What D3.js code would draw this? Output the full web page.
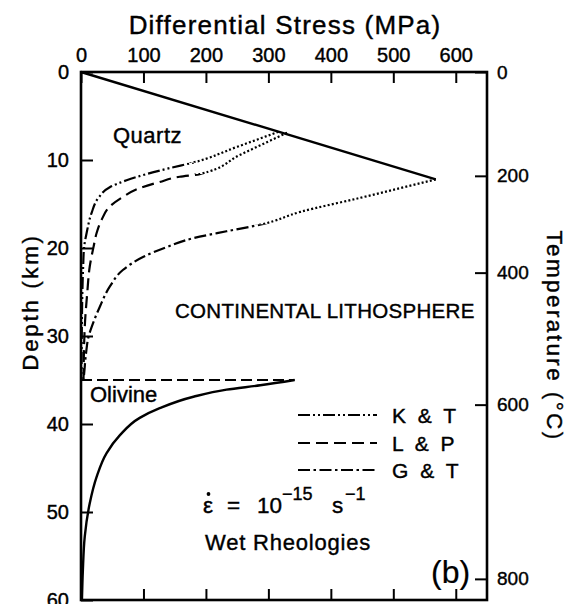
<!DOCTYPE html>
<html><head><meta charset="utf-8">
<script src="https://cdn.jsdelivr.net/npm/d3@7"></script>
<style>body{margin:0;background:#fff}svg{display:block}</style>
</head><body>
<svg id="c" width="571" height="604"></svg>
<script>
// ---------- data ----------
const stressTicks = [0,100,200,300,400,500,600];
const depthTicks = [0,10,20,30,40,50,60];
const tempTicks = [0,200,400,600,800];
const tempTickDepths = [0,11.8,22.8,37.8,57.6];

const brittleDepth = [0,12.2];
const brittleStress = [0,568];

// Kronenberg & Tullis (quartz): dotted part then ductile part
const ktDotDepth = [6.8,8.5,10.3];
const ktDotStress = [316,250,179];
const ktDepth = [10.3,10.9,11.6,12.3,13.1,14.3,16.0,18.3,19.9,22,25,30,35];
const ktStress = [179,143,105,73,46,28,17,9,5,3.5,2.2,1.2,0.8];

// Luan & Paterson (quartz)
const lpDotDepth = [6.9,9.4,11.6];
const lpDotStress = [330,255,190];
const lpDepth = [11.6,11.9,12.5,13.2,14.2,15.3,16.8,18.3,19.9,22.1,25.1,29.0,35];
const lpStress = [190,158,126,94,67,46,33,25,20,14,10,6,4];

// Gleason & Tullis (quartz)
const gtDotDepth = [12.2,14.3,15.9,17.3];
const gtDotStress = [568,447,351,290];
const gtDepth = [17.3,18.1,18.9,19.9,21.0,22.5,24.4,26.7,28.6,30.1,32.0,34.3,35];
const gtStress = [290,233,179,137,100,67,46,30,19,12,8,5,4];

// Olivine
const mohoDepth = [35,35];
const mohoStress = [0,342];
const olDepth = [35.0,35.6,36.1,36.9,38.2,39.3,41.3,43.3,46,49,52.8,56.6,60];
const olStress = [342,287,233,180,126,94,62,41,25,14,6,3,1.5];

const legendLabels = ["K & T","L & P","G & T"];
const legendDash = ["12,3,2,3,2,3","12,6","12,3.5,2.5,3.5"];

// ---------- drawing ----------
const FONT = "'Liberation Sans', Arial, Helvetica, sans-serif";
const svg = d3.select("#c");
const x = d3.scaleLinear().domain([0,650]).range([81,487]);
const y = d3.scaleLinear().domain([0,60]).range([72,600]);
const tScale = d3.scaleLinear().domain(tempTicks).range(tempTickDepths.map(d=>y(d)));

const line = d3.line().x(d=>x(d[1])).y(d=>y(d[0])).curve(d3.curveMonotoneY);
const zip = (a,b)=>a.map((v,i)=>[v,b[i]]);

function path(dep, str, dash, w, clip){
  const p = svg.append("path").attr("d", line(zip(dep,str)))
    .attr("fill","none").attr("stroke","#000").attr("stroke-width", w||2.2)
    .attr("stroke-dasharray", dash||null).attr("stroke-linecap","butt");
  if(clip) p.attr("clip-path",`url(#${clip})`);
  return p;
}
const defs = svg.append("defs");
let clipN = 0;
function clipRect(y0,y1){
  const id = "cl"+(clipN++);
  defs.append("clipPath").attr("id",id).append("rect")
    .attr("x",0).attr("y",y0).attr("width",571).attr("height",y1-y0);
  return id;
}
// one smooth curve, dotted above the junction depth and patterned below it
function splitCurve(dotDep, dotStr, dep, str, dash){
  const D = dotDep.concat(dep.slice(1)), S = dotStr.concat(str.slice(1));
  const yj = y(dep[0]);
  path(D, S, "2,2.2", 2.2, clipRect(0, yj));
  path(D, S, dash, 2.2, clipRect(yj, 604));
}

// axes
function styleAxis(g, fs){
  g.select(".domain").remove();
  g.attr("font-family", FONT).attr("font-size", fs);
  g.selectAll("line").attr("stroke","#000").attr("stroke-width",2);
  g.selectAll("text").attr("fill","#000").attr("stroke","#000").attr("stroke-width",0.4);
}
const gTop = svg.append("g").attr("transform",`translate(0,${y(0)})`)
  .call(d3.axisTop(x).tickValues(stressTicks).tickSizeInner(-11).tickSizeOuter(0).tickPadding(10).tickFormat(d3.format("d")));
styleAxis(gTop, 20);
const gBot = svg.append("g").attr("transform",`translate(0,${y(60)})`)
  .call(d3.axisBottom(x).tickValues(stressTicks.slice(1)).tickSizeInner(-11).tickSizeOuter(0).tickFormat(""));
styleAxis(gBot, 20);
const gLeft = svg.append("g").attr("transform",`translate(${x(0)},0)`)
  .call(d3.axisLeft(y).tickValues(depthTicks).tickSizeInner(-12).tickSizeOuter(0).tickPadding(12).tickFormat(d3.format("d")));
styleAxis(gLeft, 20);
const gRight = svg.append("g").attr("transform",`translate(${x(650)},0)`)
  .call(d3.axisRight(tScale).tickValues(tempTicks).tickSizeInner(-12).tickSizeOuter(0).tickPadding(10).tickFormat(d3.format("d")));
styleAxis(gRight, 19);

// frame
svg.append("rect").attr("x",x(0)).attr("y",y(0)).attr("width",x(650)-x(0)).attr("height",y(60)-y(0))
  .attr("fill","none").attr("stroke","#000").attr("stroke-width",2.6);

// curves
path(brittleDepth, brittleStress, null, 2.4);
splitCurve(ktDotDepth, ktDotStress, ktDepth, ktStress, legendDash[0]);
splitCurve(lpDotDepth, lpDotStress, lpDepth, lpStress, legendDash[1]);
splitCurve(gtDotDepth, gtDotStress, gtDepth, gtStress, legendDash[2]);
path(mohoDepth, mohoStress, "11,5", 2.2);
path(olDepth, olStress, null, 2.4);

// texts
function txt(s, X, Y, fs, opts){
  const t = svg.append("text").attr("x",X).attr("y",Y).attr("font-family",FONT)
    .attr("font-size",fs).attr("fill","#000").attr("stroke","#000").attr("stroke-width",0.4).text(s);
  if(opts){ for(const k in opts) t.attr(k, opts[k]); }
  return t;
}
txt("Differential  Stress  (MPa)", 285, 34, 26, {"text-anchor":"middle","letter-spacing":"1.2px"});
txt("Depth  (km)", 0, 0, 22.5, {"text-anchor":"middle","letter-spacing":"2.6px","transform":"translate(38,302) rotate(-90)"});
txt("Temperature  (°C)", 0, 0, 22.5, {"text-anchor":"middle","letter-spacing":"2.4px","transform":"translate(547,336) rotate(90)"});
txt("Quartz", 113, 143, 22, {"letter-spacing":"0.5px"});
txt("CONTINENTAL  LITHOSPHERE", 175, 318, 20.5, {"letter-spacing":"0.3px"});
txt("Olivine", 90, 402, 22);

// legend
const legY = [415,443,470];
legendLabels.forEach((l,i)=>{
  svg.append("line").attr("x1",298).attr("x2",377).attr("y1",legY[i]).attr("y2",legY[i])
    .attr("stroke","#000").attr("stroke-width",2.2).attr("stroke-dasharray",legendDash[i]);
  txt(l, 392, legY[i]+8, 21, {"word-spacing":"6px"});
});

// strain rate
const eq = svg.append("text").attr("font-family",FONT).attr("font-size",22.5).attr("fill","#000")
  .attr("stroke","#000").attr("stroke-width",0.4);
eq.append("tspan").attr("x",203).attr("y",513).text("ε");
eq.append("tspan").attr("x",227).attr("y",513).text("=");
eq.append("tspan").attr("x",257).attr("y",513).text("10");
eq.append("tspan").attr("x",282).attr("y",500).attr("font-size",18).text("−15");
eq.append("tspan").attr("x",332).attr("y",513).text("s");
eq.append("tspan").attr("x",345).attr("y",500).attr("font-size",18).text("−1");
svg.append("circle").attr("cx",208.5).attr("cy",494).attr("r",1.9).attr("fill","#000");
txt("Wet  Rheologies", 205, 550, 22, {"letter-spacing":"0.8px"});
txt("(b)", 431, 583, 32, {"stroke-width":0.2});
</script>
</body></html>
